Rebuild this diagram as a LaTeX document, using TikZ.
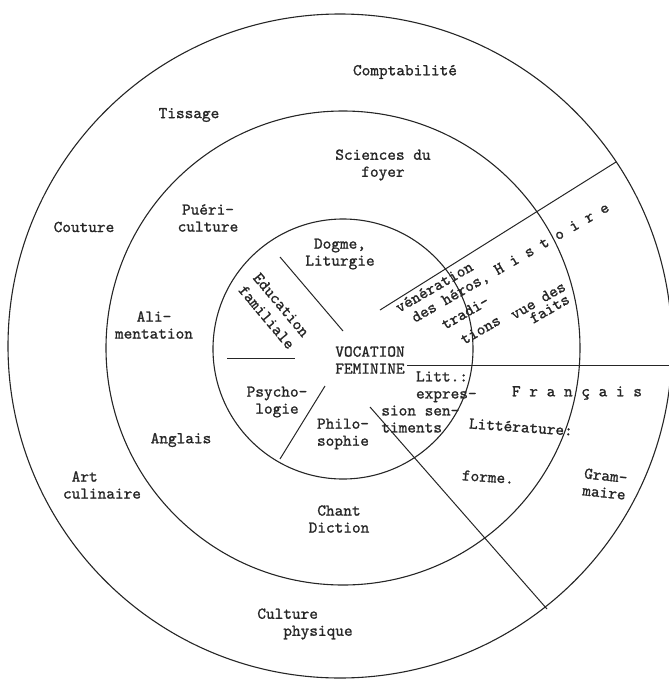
\documentclass[tikz,border=0pt]{standalone}
\usepackage{fontspec}
\newfontfamily\vocfont{lmmono10-regular.otf}[FakeBold=1.2]
\definecolor{vocink}{HTML}{262626}
\tikzset{
  voclbl/.style={font=\vocfont\fontsize{16.5}{17}\selectfont, text=vocink, align=center, inner sep=0pt},
  vocrot/.style={voclbl, rotate=30, anchor=base west},
  vocring/.style={draw=vocink, line width=1.1pt},
  vocsep/.style={draw=vocink, line width=1pt},
}

\begin{document}
\begin{tikzpicture}[x=1pt, y=-1pt]
  \useasboundingbox (0,0) rectangle (669,681);
  \coordinate (outc) at (340,346);
  \coordinate (midc) at (343,348);
  \coordinate (innc) at (343,349);
  \draw[vocring] (outc) circle[radius=332pt];
  \draw[vocring] (midc) circle[radius=237pt];
  \draw[vocring] (innc) circle[radius=130pt];

  \coordinate (histA) at (380,310);
  \coordinate (histB) at (616,162);
  \coordinate (fraA) at (407,365);
  \coordinate (fraB) at (671,365);
  \coordinate (formA) at (370,407);
  \coordinate (formB) at (547,609);
  \coordinate (dogA) at (280,257);
  \coordinate (dogB) at (343,331);
  \coordinate (eduA) at (227,358);
  \coordinate (eduB) at (295,358);
  \coordinate (psyA) at (325,386);
  \coordinate (psyB) at (280,459);
  \draw[vocsep] (histA) -- (histB);
  \draw[vocsep] (fraA) -- (fraB);
  \draw[vocsep] (formA) -- (formB);
  \draw[vocsep] (dogA) -- (dogB);
  \draw[vocsep] (eduA) -- (eduB);
  \draw[vocsep] (psyA) -- (psyB);

  \node[voclbl] (comptab) at (405,72) {Comptabilité};
  \node[voclbl] (tissage) at (189,115) {Tissage};
  \node[voclbl] (sciences) at (383,165) {Sciences du\\foyer};
  \node[voclbl] (couture) at (84,227) {Couture};
  \node[voclbl] (puericult) at (208,218) {Puéri-\\culture};
  \node[voclbl] (dogme) at (340,254) {Dogme,\\Liturgie};
  \node[voclbl, rotate=-50] (educ) at (274,311) {Education\\[2pt]familiale};
  \node[voclbl] (aliment) at (154,325) {Ali-\\mentation};
  \node[voclbl] (vocation) at (370,360) {VOCATION\\FEMININE};
  \node[voclbl] (psycho) at (277,402) {Psycho-\\logie};
  \node[voclbl] (philo) at (343,434) {Philo-\\sophie};
  \node[voclbl, align=left] (littexpr) at (429,402)
    {\hphantom{0000}Litt.:\\\hphantom{0000}expres-\\sion sen-\\timents};
  \node[voclbl] (francais) at (577,393) {F r a n ç a i s};
  \node[voclbl, rotate=-4] (litterat) at (521,427) {Littérature:};
  \node[voclbl, rotate=-4] (forme) at (488,477) {forme.};
  \node[voclbl, rotate=-6] (grammaire) at (605,484) {Gram-\\maire};
  \node[voclbl] (anglais) at (181,440) {Anglais};
  \node[voclbl, align=left] (artculin) at (102,485) {\hphantom{0}Art\\culinaire};
  \node[voclbl] (chant) at (339,519) {Chant\\Diction};
  \node[voclbl, align=left] (culturephys) at (305,624) {Culture\\\hphantom{000}physique};

  \node[vocrot] (veneration) at (399,313) {vénération};
  \node[vocrot] (heros) at (415,323) {des héros, H i s t o i r e};
  \node[vocrot] (tradi) at (445,330) {tradi-};
  \node[vocrot] (tions) at (464,345) {tions};
  \node[vocrot] (vuedes) at (514,320) {vue des};
  \node[vocrot] (faits) at (533,324) {faits};
\end{tikzpicture}
\end{document}
